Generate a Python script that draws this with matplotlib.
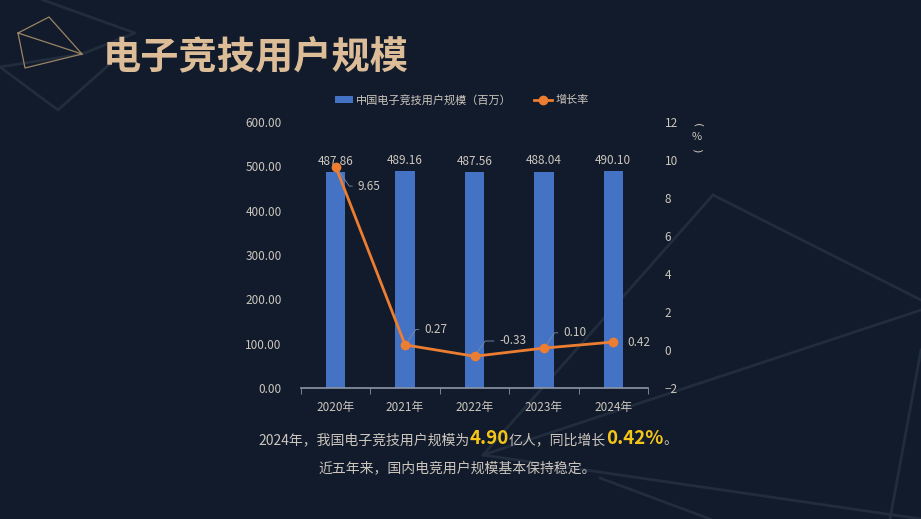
import matplotlib
matplotlib.use("Agg")
import matplotlib.pyplot as plt
from matplotlib.lines import Line2D
from matplotlib.ticker import FormatStrFormatter, MultipleLocator, FixedLocator

plt.rcParams['font.family'] = ['Noto Sans CJK SC', 'DejaVu Sans']

# data
years = ['2020年', '2021年', '2022年', '2023年', '2024年']
users = [487.86, 489.16, 487.56, 488.04, 490.10]
growth = [9.65, 0.27, -0.33, 0.10, 0.42]

title = '电子竞技用户规模'
bar_name = '中国电子竞技用户规模（百万）'
line_name = '增长率'
note1 = [('2024年，我国电子竞技用户规模为', False), ('4.90', True), ('亿人，同比增长', False),
         ('0.42%', True), ('。', False)]
note2 = '近五年来，国内电竞用户规模基本保持稳定。'

BG = '#111b2b'
TXT = '#cdc6be'
BLUE = '#4472c4'
ORANGE = '#ed7d31'
GOLD = '#f5c518'

W, H = 921, 519
fig = plt.figure(figsize=(W / 100, H / 100), dpi=100, facecolor=BG)


def px(x, y):
    return x / W, 1 - y / H


# background decoration lines (pixel coords)
deco_gray = [
    [(0, 67), (82, 54)],
    [(0, 67), (58, 110), (120, 55)],
    [(43, 0), (135, 33), (82, 54)],
    [(713, 195), (921, 300)],
    [(713, 195), (483, 455)],
    [(921, 310), (483, 455), (921, 519)],
    [(921, 350), (890, 519)],
    [(600, 478), (710, 519)],
]
for seg in deco_gray:
    xs, ys = zip(*[px(a, b) for a, b in seg])
    fig.add_artist(Line2D(xs, ys, color='#212c3d', lw=2.0, transform=fig.transFigure, zorder=0))

gold_quad = [(18, 33), (49, 17), (82, 54), (25, 68), (18, 33), (82, 54)]
xs, ys = zip(*[px(a, b) for a, b in gold_quad])
fig.add_artist(Line2D(xs, ys, color='#9c8464', lw=0.9, transform=fig.transFigure, zorder=0))

# title
fig.text(103 / W, 1 - 58 / H, title, fontsize=27.5, fontweight='heavy', color='#dcbd98',
         ha='left', va='center')

# main axes
ax = fig.add_axes([301 / W, 1 - 388 / H, 347 / W, 266 / H])
ax.set_facecolor('none')
x = list(range(len(years)))
bars = ax.bar(x, users, width=0.28, color=BLUE, label=bar_name, zorder=2)
ax.set_xlim(-0.5, len(years) - 0.5)
ax.set_ylim(0, 600)
ax.yaxis.set_major_locator(MultipleLocator(100))
ax.yaxis.set_major_formatter(FormatStrFormatter('%.2f'))
ax.set_xticks(x)
ax.set_xticklabels(years)
ax.xaxis.set_minor_locator(FixedLocator([i - 0.5 for i in range(len(years) + 1)]))
ax.tick_params(axis='x', which='major', length=0, pad=9, labelsize=8.5, labelcolor=TXT)
ax.tick_params(axis='x', which='minor', length=4, color='#8c96a6', direction='out')
ax.tick_params(axis='y', length=0, pad=14, labelsize=8.5, labelcolor=TXT)
for s in ['top', 'left', 'right']:
    ax.spines[s].set_visible(False)
ax.spines['bottom'].set_color('#8c96a6')
ax.spines['bottom'].set_linewidth(1.2)

for b, v in zip(bars, users):
    ax.annotate(f'{v:.2f}', (b.get_x() + b.get_width() / 2, v), xytext=(0, 3),
                textcoords='offset points', ha='center', va='bottom', fontsize=8.5, color=TXT)

ax2 = ax.twinx()
ax2.plot(x, growth, color=ORANGE, lw=2, marker='o', markersize=6, label=line_name, zorder=3)
ax2.set_ylim(-2, 12)
ax2.yaxis.set_major_locator(MultipleLocator(2))
ax2.tick_params(axis='y', length=0, pad=12, labelsize=8.5, labelcolor=TXT)
for s in ['top', 'left', 'right', 'bottom']:
    ax2.spines[s].set_visible(False)

# growth labels with small leader lines
offsets = [(16, -14), (14, 11), (18, 11), (14, 11), (10, 0)]
for i, (g, off) in enumerate(zip(growth, offsets)):
    if i == len(growth) - 1:
        arrow = None
    else:
        ang = -55 if off[1] < 0 else 55
        arrow = dict(arrowstyle='-', color='#7d8ca4', lw=0.6, shrinkA=2, shrinkB=4, relpos=(0, 0.5),
                     connectionstyle=f'angle,angleA=0,angleB={ang},rad=0')
    ax2.annotate(f'{g:.2f}', (i, g), xytext=off, textcoords='offset points',
                 ha='left', va='center', fontsize=8.5, color=TXT, arrowprops=arrow)

# vertical unit label  (%)
fig.text(697 / W, 1 - 125 / H, '(', fontsize=8, color=TXT, ha='center', va='center',
         rotation=-90, family='DejaVu Sans')
fig.text(697 / W, 1 - 137 / H, '%', fontsize=8, color=TXT, ha='center', va='center')
fig.text(697 / W, 1 - 150 / H, ')', fontsize=8, color=TXT, ha='center', va='center',
         rotation=-90, family='DejaVu Sans')

# legend
h1, l1 = ax.get_legend_handles_labels()
h2, l2 = ax2.get_legend_handles_labels()
fig.legend(h1 + h2, l1 + l2, loc='center', bbox_to_anchor=(462 / W, 1 - 100 / H), ncol=2,
           frameon=False, fontsize=8, labelcolor=TXT, handlelength=1.6, handleheight=0.6,
           columnspacing=2.0, handletextpad=0.3)

# summary text with highlighted numbers
parts = []
for s, hl in note1:
    parts.append(fig.text(0, 1 - 444 / H, s, color=GOLD if hl else TXT,
                          fontsize=13.5 if hl else 10, fontweight='bold' if hl else 'normal',
                          ha='left', va='baseline'))
fig.canvas.draw()
r = fig.canvas.get_renderer()
xcur = 258
for t in parts:
    t.set_x(xcur / W)
    xcur = t.get_window_extent(r).x1

fig.text(457 / W, 1 - 468 / H, note2, color=TXT, fontsize=10, ha='center', va='center')

fig.savefig('out.png', dpi=100, facecolor=BG)
